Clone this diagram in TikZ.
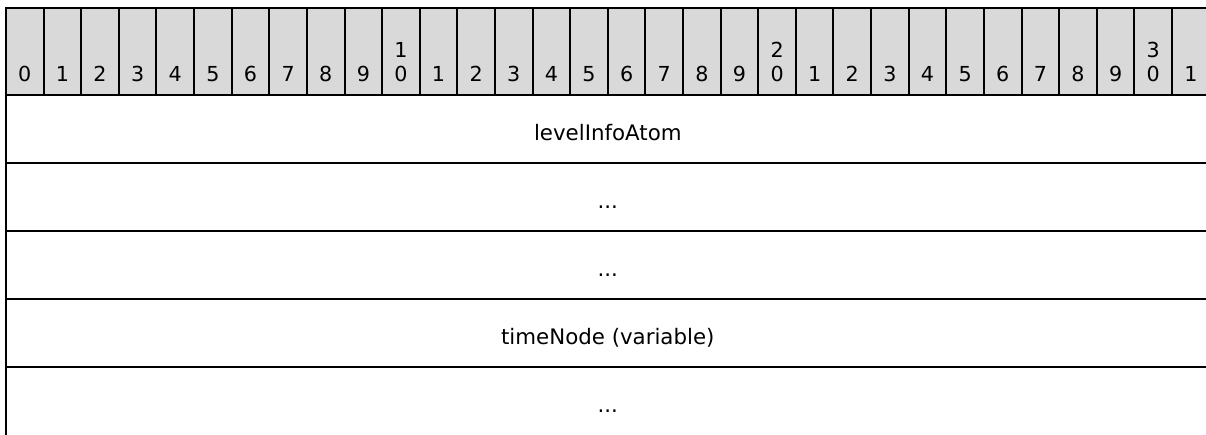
\documentclass[tikz,border=0pt]{standalone}
\usepackage{fontspec}
\setmainfont{DejaVu Sans}
\definecolor{hdrgray}{HTML}{D9D9D9}
\begin{document}
\begin{tikzpicture}[x=0.75pt,y=-0.75pt,
  gridline/.style={line width=1.5pt,black},
  digit/.style={anchor=base,inner sep=0pt,font=\fontsize{15.5}{18}\selectfont},
  celltext/.style={anchor=base,inner sep=0pt,font=\fontsize{16}{19}\selectfont}]
\useasboundingbox (0,0) rectangle (1206,435);
\def\cw{37.613}
% header background
\fill[hdrgray] (6,8.5) rectangle (1206,95);
% horizontal lines
\foreach \yy in {8.5,95,163,231,299,367}{
  \draw[gridline] (5.25,\yy) -- (1206,\yy);
}
% left border
\draw[gridline] (6,8.5) -- (6,435);
% column separators in header
\foreach \k in {1,...,31}{
  \draw[gridline] ({6+\k*\cw},8.5) -- ({6+\k*\cw},95);
}
% header labels
\foreach \k in {0,...,31}{
  \pgfmathtruncatemacro\u{mod(\k,10)}
  \pgfmathtruncatemacro\t{\k/10}
  \node[digit] (h\k) at ({6+(\k+0.5)*\cw},82) {\u};
  \ifnum\u=0 \ifnum\k>0
    \node[digit] (t\k) at ({6+(\k+0.5)*\cw},58) {\t};
  \fi\fi
}
% body rows
\def\cx{607.8}
\node[celltext] (r1) at (\cx,140.7) {levelInfoAtom};
\node[celltext] (r2) at (\cx,208.7) {...};
\node[celltext] (r3) at (\cx,276.7) {...};
\node[celltext] (r4) at (\cx,344.7) {timeNode (variable)};
\node[celltext] (r5) at (\cx,412.7) {...};
\end{tikzpicture}
\end{document}
